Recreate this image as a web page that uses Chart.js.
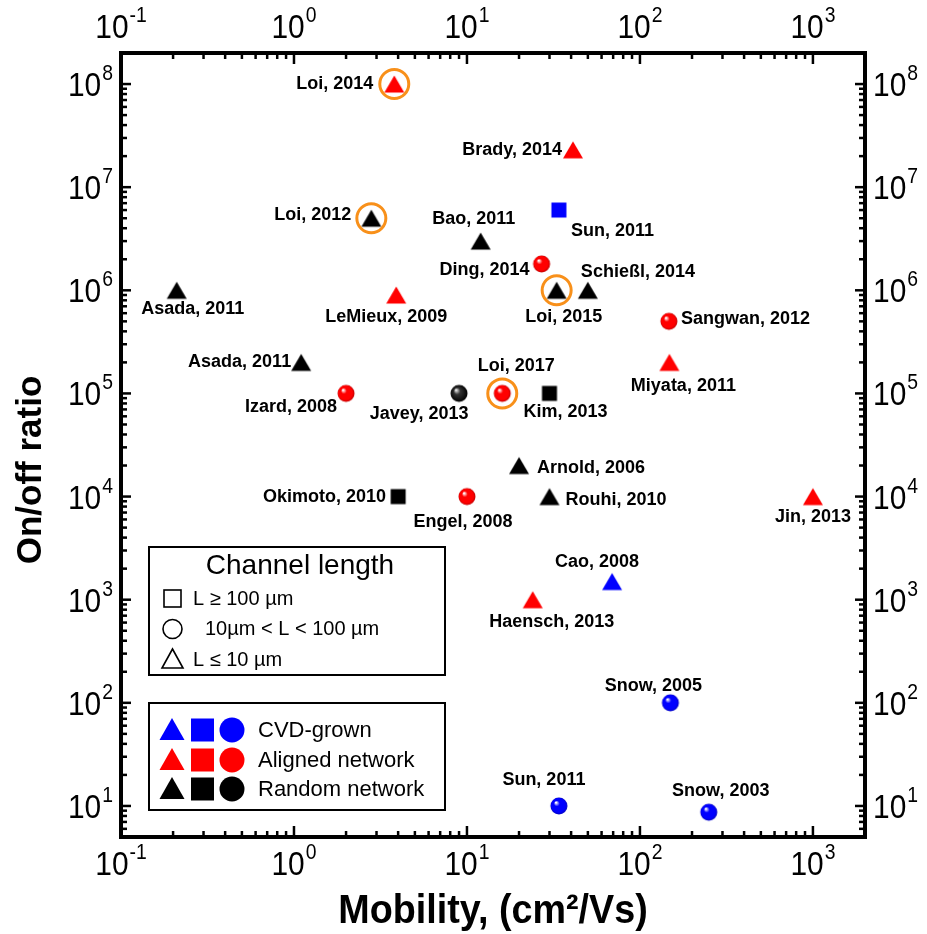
<!DOCTYPE html>
<html>
<head>
<meta charset="utf-8">
<script src="https://cdn.jsdelivr.net/npm/chart.js@4/dist/chart.umd.min.js"></script>
<style>
  body { margin: 0; background: #fff; }
  #wrap { width: 927px; height: 934px; }
</style>
</head>
<body>
<div id="wrap"><canvas id="myChart"></canvas></div>
<script>
const names = [
  'Loi, 2014', 'Brady, 2014', 'Loi, 2012', 'Bao, 2011', 'Sun, 2011', 'Ding, 2014',
  'Loi, 2015', 'Schießl, 2014', 'LeMieux, 2009', 'Asada, 2011', 'Sangwan, 2012', 'Asada, 2011',
  'Miyata, 2011', 'Izard, 2008', 'Javey, 2013', 'Loi, 2017', 'Kim, 2013', 'Arnold, 2006',
  'Rouhi, 2010', 'Okimoto, 2010', 'Engel, 2008', 'Jin, 2013', 'Cao, 2008', 'Haensch, 2013',
  'Snow, 2005', 'Sun, 2011', 'Snow, 2003',
];
const mobility = [3.8, 41, 2.8, 12, 34, 27, 33, 50, 3.9, 0.21, 147, 1.1, 148, 2, 9, 16, 30, 20, 30, 4, 10, 1000, 69, 24, 150, 34, 250];
const onOff = [1e8, 2.3e7, 5e6, 3e6, 6e6, 1.8e6, 1e6, 1e6, 9e5, 1e6, 5e5, 2e5, 2e5, 1e5, 1e5, 1e5, 1e5, 2e4, 1e4, 1e4, 1e4, 1e4, 1.5e3, 1e3, 100, 10, 8.7];
// tri: L <= 10um, sq: L >= 100um, sph: in between
const shape = ['tri', 'tri', 'tri', 'tri', 'sq', 'sph', 'tri', 'tri', 'tri', 'tri', 'sph', 'tri', 'tri', 'sph', 'sph', 'sph', 'sq', 'tri', 'tri', 'sq', 'sph', 'tri', 'tri', 'tri', 'sph', 'sph', 'sph'];
const kind = ['aligned', 'aligned', 'random', 'random', 'cvd', 'aligned', 'random', 'random', 'aligned', 'random', 'aligned', 'random', 'aligned', 'aligned', 'random', 'aligned', 'random', 'random', 'random', 'random', 'aligned', 'aligned', 'cvd', 'aligned', 'cvd', 'cvd', 'cvd'];
const circled = [true, false, true, false, false, false, true, false, false, false, false, false, false, false, false, true, false, false, false, false, false, false, false, false, false, false, false];

const xDecades = [-1, 0, 1, 2, 3];
const yDecades = [1, 2, 3, 4, 5, 6, 7, 8];

// where each label sits relative to its marker: [dx, dy, align]
const labelAt = [
  [-21, 0, 'right'], [-11, 0, 'right'], [-20, -3, 'right'], [-7, -22, 'center'], [12, 21, 'left'], [-12, 6, 'right'],
  [7, 27, 'center'], [-7, -18, 'left'], [-10, 22, 'center'], [16, 19, 'center'], [12, -2, 'left'], [-10, 0, 'right'],
  [14, 24, 'center'], [-9, 14, 'right'], [-40, 21, 'center'], [14, -27, 'center'], [16, 19, 'center'], [18, 3, 'left'],
  [16, 3, 'left'], [-12, 0, 'right'], [-4, 25, 'center'], [0, 20, 'center'], [-15, -20, 'center'], [19, 22, 'center'],
  [-17, -17, 'center'], [-15, -26, 'center'], [12, -21, 'center'],
];

const colors = { cvd: '#0000ff', aligned: '#ff0000', random: '#000000' };
const shades = { cvd: '#0000c0', aligned: '#c00000', random: '#000000' };
const ORANGE = '#f8901a';
const SANS = '"Liberation Sans", Arial, sans-serif';

function makeMarker(sh, k) {
  const c = document.createElement('canvas');
  c.width = 22; c.height = 22;
  const g = c.getContext('2d');
  if (sh === 'tri') {
    g.fillStyle = colors[k];
    g.beginPath();
    g.moveTo(11, 2.5); g.lineTo(21, 19.5); g.lineTo(1, 19.5);
    g.closePath(); g.fill();
  } else if (sh === 'sq') {
    g.fillStyle = colors[k];
    g.fillRect(3.5, 3.5, 15, 15);
  } else {
    const r = 8.5;
    const grad = g.createRadialGradient(11 - 3, 11 - 3.5, 0.5, 11, 11, r);
    if (k === 'random') {
      grad.addColorStop(0, '#e8e8e8');
      grad.addColorStop(0.35, '#333');
      grad.addColorStop(1, '#000');
    } else {
      grad.addColorStop(0, '#ffffff');
      grad.addColorStop(0.3, colors[k]);
      grad.addColorStop(0.8, colors[k]);
      grad.addColorStop(1, shades[k]);
    }
    g.fillStyle = grad;
    g.beginPath(); g.arc(11, 11, r, 0, Math.PI * 2); g.fill();
  }
  return c;
}
const markers = {};
['tri', 'sq', 'sph'].forEach((sh) => {
  markers[sh] = {};
  ['cvd', 'aligned', 'random'].forEach((k) => { markers[sh][k] = makeMarker(sh, k); });
});

// narrow text: draw with a horizontal squeeze
function narrowText(ctx, txt, x, y, font, sx) {
  ctx.save();
  ctx.font = font;
  ctx.translate(x, y);
  ctx.scale(sx, 1);
  ctx.fillText(txt, 0, 0);
  ctx.restore();
}

function pow10(ctx, e, x, y, align) {
  const base = '10';
  const exp = String(e);
  const sx = 0.88;
  const fb = '34px ' + SANS;
  const fe = '22px ' + SANS;
  ctx.font = fb;
  const wb = ctx.measureText(base).width * sx;
  ctx.font = fe;
  const we = ctx.measureText(exp).width * sx;
  const w = wb + we + 1;
  let x0 = x;
  if (align === 'center') x0 = x - w / 2;
  if (align === 'right') x0 = x - w;
  ctx.textAlign = 'left';
  ctx.textBaseline = 'alphabetic';
  narrowText(ctx, base, x0, y + 12, fb, sx);
  narrowText(ctx, exp, x0 + wb + 1, y - 4, fe, sx);
}

function line(ctx, x1, y1, x2, y2) {
  ctx.beginPath(); ctx.moveTo(x1, y1); ctx.lineTo(x2, y2); ctx.stroke();
}

const frame = {
  id: 'frame',
  afterDraw(chart) {
    const ctx = chart.ctx;
    const a = chart.chartArea;
    const xs = chart.scales.x;
    const ys = chart.scales.y;
    ctx.save();
    ctx.fillStyle = '#000';
    ctx.strokeStyle = '#000';
    ctx.lineCap = 'butt';

    // ticks
    ctx.lineWidth = 2.5;
    xDecades.forEach((e) => {
      for (let m = 1; m <= 9; m++) {
        const v = m * Math.pow(10, e);
        if (v < xs.min || v > xs.max) continue;
        const px = xs.getPixelForValue(v);
        const len = m === 1 ? 11 : 6;
        line(ctx, px, a.bottom, px, a.bottom - len);
        line(ctx, px, a.top, px, a.top + len);
      }
    });
    [0].concat(yDecades).forEach((e) => {
      for (let m = 1; m <= 9; m++) {
        const v = m * Math.pow(10, e);
        if (v < ys.min || v > ys.max) continue;
        const py = ys.getPixelForValue(v);
        const len = m === 1 ? 10 : 6;
        line(ctx, a.left, py, a.left + len, py);
        line(ctx, a.right, py, a.right - len, py);
      }
    });

    // frame
    ctx.lineWidth = 4;
    ctx.strokeRect(a.left, a.top, a.right - a.left, a.bottom - a.top);

    // tick labels
    xDecades.forEach((e) => {
      const px = xs.getPixelForValue(Math.pow(10, e));
      pow10(ctx, e, px, 863, 'center');
      pow10(ctx, e, px, 26, 'center');
    });
    yDecades.forEach((e) => {
      const py = ys.getPixelForValue(Math.pow(10, e));
      pow10(ctx, e, a.left - 8, py, 'right');
      pow10(ctx, e, a.right + 8, py, 'left');
    });

    // axis titles
    ctx.textAlign = 'center';
    ctx.textBaseline = 'alphabetic';
    narrowText(ctx, 'Mobility, (cm²/Vs)', (a.left + a.right) / 2, 923, 'bold 41px ' + SANS, 0.92);
    ctx.save();
    ctx.translate(31, 470);
    ctx.rotate(-Math.PI / 2);
    ctx.textBaseline = 'middle';
    ctx.font = 'bold 35px ' + SANS;
    ctx.fillText('On/off ratio', 0, 0);
    ctx.restore();

    // point labels
    ctx.font = 'bold 18px ' + SANS;
    ctx.textBaseline = 'middle';
    names.forEach((n, i) => {
      const px = xs.getPixelForValue(mobility[i]);
      const py = ys.getPixelForValue(onOff[i]);
      const [dx, dy, al] = labelAt[i];
      ctx.textAlign = al;
      ctx.fillText(n, px + dx, py + dy);
    });

    // legend: channel length
    ctx.lineWidth = 2;
    ctx.strokeRect(149, 547, 296, 128);
    ctx.textAlign = 'center';
    ctx.font = '28px ' + SANS;
    ctx.fillText('Channel length', 300, 566);
    ctx.lineWidth = 1.6;
    ctx.strokeRect(164, 590, 17, 17);
    ctx.beginPath(); ctx.arc(172.5, 629, 9.5, 0, Math.PI * 2); ctx.stroke();
    ctx.beginPath(); ctx.moveTo(172.5, 649); ctx.lineTo(183, 668); ctx.lineTo(162, 668); ctx.closePath(); ctx.stroke();
    ctx.textAlign = 'left';
    ctx.font = '20px ' + SANS;
    ctx.fillText('L ≥ 100 µm', 193, 599);
    ctx.fillText('10µm < L < 100 µm', 205, 629);
    ctx.fillText('L ≤ 10 µm', 193, 660);

    // legend: growth type
    ctx.lineWidth = 2;
    ctx.strokeRect(149, 703, 296, 107);
    const rows = [['cvd', 'CVD-grown', 730], ['aligned', 'Aligned network', 760], ['random', 'Random network', 789]];
    rows.forEach(([k, txt, y]) => {
      ctx.fillStyle = colors[k];
      ctx.beginPath(); ctx.moveTo(172, y - 12); ctx.lineTo(184.5, y + 10); ctx.lineTo(159.5, y + 10); ctx.closePath(); ctx.fill();
      ctx.fillRect(191, y - 11.5, 23, 23);
      ctx.beginPath(); ctx.arc(232, y, 12.5, 0, Math.PI * 2); ctx.fill();
      ctx.fillStyle = '#000';
      ctx.font = '22px ' + SANS;
      ctx.fillText(txt, 258, y + 1);
    });
    ctx.restore();
  },
};

const points = mobility.map((x, i) => ({ x, y: onOff[i] }));
const ringPoints = points.filter((p, i) => circled[i]);

const ctx = document.getElementById('myChart').getContext('2d');
const fixSize = (w, h) => (scale) => {
  if (w !== null) scale.width = w;
  if (h !== null) scale.height = h;
};
window.myChart = new Chart(ctx, {
  type: 'scatter',
  data: {
    datasets: [
      {
        label: 'rings',
        data: ringPoints,
        pointStyle: 'circle',
        pointRadius: 14.5,
        pointBorderWidth: 3,
        pointBorderColor: ORANGE,
        pointBackgroundColor: 'rgba(0,0,0,0)',
      },
      {
        label: 'devices',
        data: points,
        pointStyle: (c) => markers[shape[c.dataIndex]][kind[c.dataIndex]],
        pointRadius: 10,
      },
    ],
  },
  options: {
    responsive: true,
    maintainAspectRatio: false,
    animation: false,
    events: [],
    layout: { padding: 0 },
    plugins: { legend: { display: false }, tooltip: { enabled: false } },
    scales: {
      x: {
        type: 'logarithmic', position: 'bottom', min: 0.1, max: 2000,
        grid: { display: false }, border: { display: false }, ticks: { display: false },
        afterFit: fixSize(null, 97),
      },
      x2: {
        type: 'logarithmic', position: 'top', min: 0.1, max: 2000,
        grid: { display: false }, border: { display: false }, ticks: { display: false },
        afterFit: fixSize(null, 53),
      },
      y: {
        type: 'logarithmic', position: 'left', min: 5, max: 2e8,
        grid: { display: false }, border: { display: false }, ticks: { display: false },
        afterFit: fixSize(121, null),
      },
      y2: {
        type: 'logarithmic', position: 'right', min: 5, max: 2e8,
        grid: { display: false }, border: { display: false }, ticks: { display: false },
        afterFit: fixSize(62, null),
      },
    },
  },
  plugins: [frame],
});
</script>
</body>
</html>
